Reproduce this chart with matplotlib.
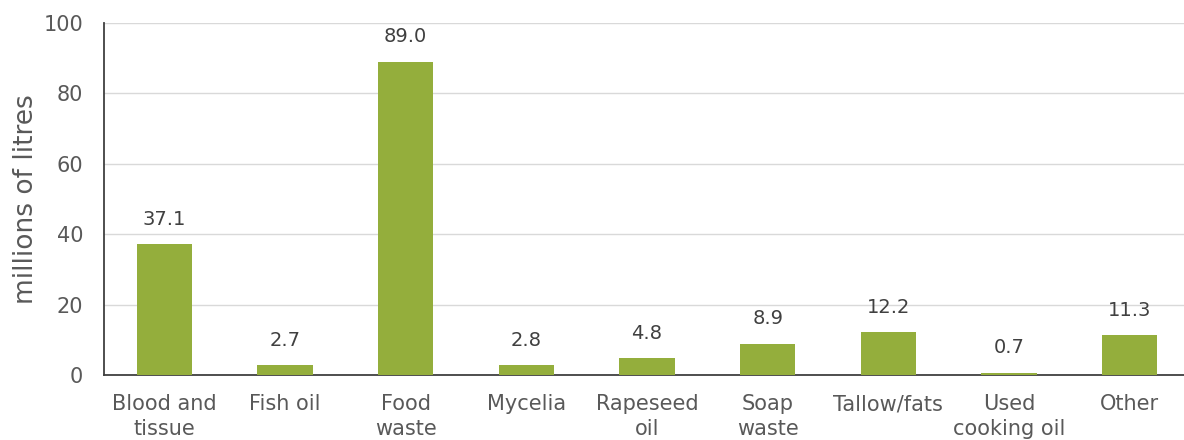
import numpy as np
from matplotlib import pyplot as plt

categories = ["Blood and\ntissue", "Fish oil", "Food\nwaste", "Mycelia", "Rapeseed\noil",
              "Soap\nwaste", "Tallow/fats", "Used\ncooking oil", "Other"]
volumes = [37.1, 2.7, 89.0, 2.8, 4.8, 8.9, 12.2, 0.7, 11.3]

bar_colour = "#94ae3c"
text_grey = "#595959"

fig = plt.figure(figsize=(11.84, 4.4), dpi=100)
ax = fig.add_axes([104 / 1184, 65 / 440, 1 - 104 / 1184, 352 / 440])

x = np.arange(len(categories))
bars = ax.bar(x, volumes, width=0.46, color=bar_colour, zorder=3)
for bar, v in zip(bars, volumes):
    ax.annotate(f"{v:.1f}", xy=(bar.get_x() + bar.get_width() / 2, v),
                xytext=(0, 11), textcoords="offset points",
                ha="center", va="bottom", fontsize=14, color="#404040")

ax.set_xlim(-0.5, 8.45)
ax.set_ylim(0, 100)
ax.set_yticks(range(0, 101, 20))
ax.yaxis.grid(True, color="#d9d9d9", linewidth=1, zorder=0)
ax.set_xticks(x)
ax.set_xticklabels(categories, fontsize=15, color=text_grey, linespacing=1.3)
ax.tick_params(axis="y", labelsize=15, colors=text_grey, length=0, pad=15)
ax.tick_params(axis="x", length=0, pad=14)
ax.set_ylabel("millions of litres", fontsize=19, color=text_grey)
ax.yaxis.set_label_coords(-0.06, 0.5)

for side in ["top", "right"]:
    ax.spines[side].set_visible(False)
for side in ["left", "bottom"]:
    ax.spines[side].set_color("#404040")
    ax.spines[side].set_linewidth(1.3)

plt.savefig("out.png", dpi=100)
